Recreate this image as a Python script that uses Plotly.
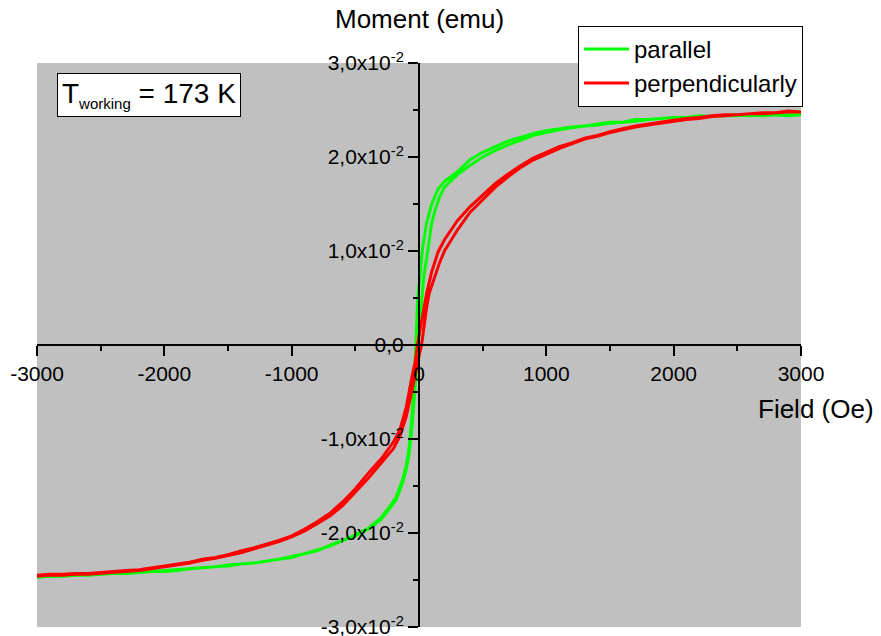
import plotly.graph_objects as go

# ---------------- data (field in Oe, moment in 1e-2 emu) ----------------
# parallel: descending branch (+3000 -> -3000)
par_desc_H = [3000, 2900, 2800, 2700, 2600, 2500, 2400, 2300, 2200, 2100, 2000, 1900, 1800, 1700,
              1600, 1500, 1400, 1300, 1200, 1100, 1000, 900, 800, 700, 600, 500, 400, 300, 200,
              150, 100, 60, 30, 0, -10, -25, -40, -60, -80, -100, -130, -180, -230, -300, -400,
              -500, -600, -700, -800, -900, -1000, -1100, -1200, -1300, -1400, -1500, -1600,
              -1700, -1800, -1900, -2000, -2100, -2200, -2300, -2400, -2500, -2600, -2700, -2800,
              -2900, -3000]
par_desc_M = [2.45, 2.44, 2.45, 2.46, 2.44, 2.45, 2.44, 2.43, 2.44, 2.42, 2.42, 2.41, 2.40, 2.40,
              2.37, 2.37, 2.35, 2.33, 2.32, 2.30, 2.28, 2.25, 2.21, 2.17, 2.11, 2.05, 1.97, 1.84, 1.74,
              1.66, 1.50, 1.30, 1.05, 0.68, 0.50, 0.0, -0.45, -0.85, -1.12, -1.28, -1.44, -1.62, -1.72,
              -1.84, -1.95, -2.02, -2.08, -2.13, -2.19, -2.22, -2.26, -2.28, -2.30, -2.32, -2.33,
              -2.35, -2.36, -2.37, -2.38, -2.39, -2.40, -2.41, -2.42, -2.42, -2.43, -2.44, -2.44,
              -2.45, -2.45, -2.46, -2.46]
# parallel: ascending branch (-3000 -> +3000)
par_asc_H = [-3000, -2900, -2800, -2700, -2600, -2500, -2400, -2300, -2200, -2100, -2000, -1900,
             -1800, -1700, -1600, -1500, -1400, -1300, -1200, -1100, -1000, -900, -800, -700, -600,
             -500, -400, -300, -230, -180, -130, -100, -80, -60, -40, -20, -5, 10, 20, 40, 60, 80,
             100, 130, 160, 200, 300, 400, 500, 600, 700, 800, 900, 1000, 1100, 1200, 1300, 1400,
             1500, 1600, 1700, 1800, 1900, 2000, 2100, 2200, 2300, 2400, 2500, 2600, 2700, 2800,
             2900, 3000]
par_asc_M = [-2.47, -2.46, -2.46, -2.45, -2.45, -2.44, -2.43, -2.43, -2.42, -2.41, -2.41, -2.40,
             -2.38, -2.37, -2.36, -2.34, -2.33, -2.32, -2.30, -2.28, -2.25, -2.22, -2.18, -2.14,
             -2.08, -2.03, -1.96, -1.86, -1.74, -1.65, -1.47, -1.32, -1.18, -0.95, -0.62, -0.30,
             0.0, 0.30, 0.48, 0.75, 0.92, 1.14, 1.30, 1.45, 1.57, 1.68, 1.81, 1.91, 2.00, 2.07,
             2.13, 2.18, 2.23, 2.26, 2.29, 2.31, 2.33, 2.34, 2.36, 2.37, 2.38, 2.40, 2.41, 2.42,
             2.42, 2.43, 2.43, 2.44, 2.44, 2.45, 2.44, 2.45, 2.45, 2.45]

# perpendicularly: descending branch
per_desc_H = [3000, 2900, 2800, 2700, 2600, 2500, 2400, 2300, 2200, 2100, 2000, 1900, 1800, 1700,
              1600, 1500, 1400, 1300, 1200, 1100, 1000, 900, 800, 700, 600, 500, 400, 300, 200,
              150, 100, 60, 30, 0, -12, -30, -50, -75, -100, -150, -200, -290, -390, -500, -600,
              -700, -800, -900, -1000, -1100, -1200, -1300, -1400, -1500, -1600, -1700, -1800,
              -1900, -2000, -2100, -2200, -2300, -2400, -2500, -2600, -2700, -2800, -2900, -3000]
per_desc_M = [2.48, 2.49, 2.47, 2.47, 2.46, 2.45, 2.45, 2.44, 2.42, 2.41, 2.39, 2.37, 2.35, 2.33,
              2.30, 2.27, 2.23, 2.20, 2.15, 2.11, 2.05, 1.99, 1.91, 1.82, 1.72, 1.60, 1.47, 1.32,
              1.12, 0.99, 0.78, 0.55, 0.34, 0.10, 0.0, -0.18, -0.30, -0.50, -0.66, -0.90, -1.03,
              -1.20, -1.35, -1.53, -1.67, -1.79, -1.88, -1.96, -2.03, -2.08, -2.12, -2.16, -2.19,
              -2.23, -2.26, -2.28, -2.31, -2.33, -2.35, -2.37, -2.39, -2.40, -2.41, -2.42, -2.43,
              -2.43, -2.44, -2.44, -2.45]
# perpendicularly: ascending branch
per_asc_H = [-3000, -2900, -2800, -2700, -2600, -2500, -2400, -2300, -2200, -2100, -2000, -1900,
             -1800, -1700, -1600, -1500, -1400, -1300, -1200, -1100, -1000, -900, -800, -700, -600,
             -500, -400, -300, -200, -150, -100, -60, -30, 0, 20, 40, 60, 80, 120, 160, 200, 300,
             400, 500, 600, 700, 800, 900, 1000, 1100, 1200, 1300, 1400, 1500, 1600, 1700, 1800,
             1900, 2000, 2100, 2200, 2300, 2400, 2500, 2600, 2700, 2800, 2900, 3000]
per_asc_M = [-2.46, -2.45, -2.45, -2.44, -2.44, -2.43, -2.42, -2.41, -2.40, -2.38, -2.36, -2.34,
             -2.32, -2.29, -2.27, -2.24, -2.21, -2.17, -2.13, -2.09, -2.04, -1.98, -1.90, -1.82,
             -1.71, -1.57, -1.42, -1.26, -1.10, -0.97, -0.76, -0.52, -0.30, -0.12, 0.0, 0.22,
             0.40, 0.55, 0.72, 0.87, 1.00, 1.22, 1.41, 1.55, 1.68, 1.79, 1.89, 1.97, 2.03, 2.09,
             2.14, 2.19, 2.22, 2.26, 2.29, 2.32, 2.34, 2.36, 2.38, 2.40, 2.41, 2.43, 2.44, 2.45,
             2.46, 2.46, 2.47, 2.48, 2.48]

x_tickvals = [-3000, -2000, -1000, 0, 1000, 2000, 3000]
x_ticktext = ["-3000", "-2000", "-1000", "0", "1000", "2000", "3000"]
y_tickvals = [-0.03, -0.02, -0.01, 0.0, 0.01, 0.02, 0.03]
y_ticktext = ["-3,0x10<sup>-2</sup>", "-2,0x10<sup>-2</sup>", "-1,0x10<sup>-2</sup>", "0,0",
              "1,0x10<sup>-2</sup>", "2,0x10<sup>-2</sup>", "3,0x10<sup>-2</sup>"]

series = [
    ("parallel", "#00FF00", par_desc_H + par_asc_H, par_desc_M + par_asc_M),
    ("perpendicularly", "#FF0000", per_desc_H + per_asc_H, per_desc_M + per_asc_M),
]

FONT = "Arial, Liberation Sans, sans-serif"

fig = go.Figure()
for name, color, H, M in series:
    fig.add_trace(go.Scatter(x=H, y=[m * 1e-2 for m in M], mode="lines", name=name,
                             line=dict(color=color, width=3)))

axis_common = dict(showgrid=False, zeroline=False, showline=True, linecolor="black", linewidth=2,
                   ticks="outside", ticklen=10, tickwidth=2, tickcolor="black",
                   tickfont=dict(family=FONT, size=21, color="black"),
                   ticklabeloverflow="allow", automargin=False,
                   anchor="free", position=0.5)

fig.update_layout(
    width=881, height=636,
    margin=dict(l=37, r=80, t=63, b=9, autoexpand=False),
    paper_bgcolor="white", plot_bgcolor="#C0C0C0",
    font=dict(family=FONT, color="black"),
    xaxis=dict(range=[-3000, 3000], tickmode="array", tickvals=x_tickvals, ticktext=x_ticktext,
               minor=dict(ticks="outside", ticklen=5, tickwidth=2, tickcolor="black", dtick=500,
                          tick0=0, showgrid=False),
               **axis_common),
    yaxis=dict(range=[-0.03, 0.03], tickmode="array", tickvals=y_tickvals, ticktext=y_ticktext,
               minor=dict(ticks="outside", ticklen=5, tickwidth=2, tickcolor="black", dtick=0.005,
                          tick0=0, showgrid=False),
               **axis_common),
    legend=dict(x=1.0026, xanchor="right", y=1.066, yanchor="top", bgcolor="white",
                bordercolor="black", borderwidth=1, itemwidth=45,
                font=dict(family=FONT, size=24, color="black")),
    showlegend=True,
)

fig.add_annotation(text="Moment (emu)", xref="paper", yref="paper", x=0.5, y=1.0,
                   xanchor="center", yanchor="bottom", yshift=27, showarrow=False,
                   font=dict(family=FONT, size=26, color="black"))
fig.add_annotation(text="Field (Oe)", xref="paper", yref="paper", x=1.0, y=0.5,
                   xanchor="left", yanchor="top", xshift=-45, yshift=-47, showarrow=False,
                   font=dict(family=FONT, size=26, color="black"))
fig.add_annotation(text="T<sub><span style='font-size:15px'>working</span></sub> = 173 K",
                   xref="paper", yref="paper", x=0.026, y=0.983, xanchor="left", yanchor="top",
                   showarrow=False, bgcolor="white", bordercolor="black", borderwidth=1,
                   borderpad=4, font=dict(family=FONT, size=28, color="black"))

fig.write_html("out.html")
